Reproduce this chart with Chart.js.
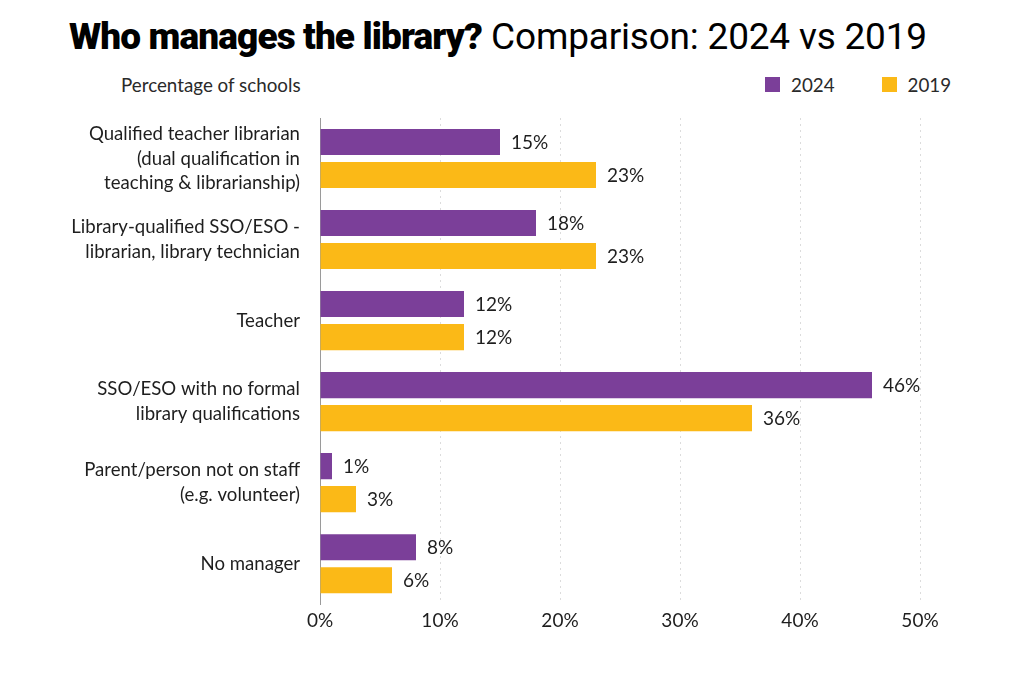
<!DOCTYPE html>
<html>
<head>
<meta charset="utf-8">
<script src="https://cdn.jsdelivr.net/npm/chart.js@4"></script>
<style>
  html,body{margin:0;padding:0;background:#fff;}
  #wrap{position:relative;width:1024px;height:683px;overflow:hidden;}
  #title{position:absolute;left:0;width:996px;top:15px;text-align:center;font-family:Roboto,sans-serif;font-size:37px;line-height:44px;color:#000;white-space:nowrap;}
  #title b{font-weight:900;letter-spacing:-0.9px;}
  #title span{font-weight:400;letter-spacing:-0.2px;}
  #sub{position:absolute;left:121px;top:73px;font-family:Lato,sans-serif;font-size:18.8px;color:#2a2a2a;}
  #legend{position:absolute;left:765px;top:73px;font-family:Lato,sans-serif;font-size:18.8px;color:#2a2a2a;display:flex;align-items:center;}
  #legend .sw{display:inline-block;width:15px;height:15px;margin-right:11px;}
  #legend .it{display:flex;align-items:center;margin-right:47px;}
  canvas{position:absolute;left:0;top:0;}
</style>
</head>
<body>
<div id="wrap">
  <div id="title"><b>Who manages the library?</b> <span>Comparison: 2024 vs 2019</span></div>
  <div id="sub">Percentage of schools</div>
  <div id="legend"></div>
  <canvas id="c" width="1024" height="683"></canvas>
</div>
<script>
const categories = [
  ["Qualified teacher librarian", "(dual qualification in", "teaching & librarianship)"],
  ["Library-qualified SSO/ESO -", "librarian, library technician"],
  ["Teacher"],
  ["SSO/ESO with no formal", "library qualifications"],
  ["Parent/person not on staff", "(e.g. volunteer)"],
  ["No manager"]
];
const seriesNames = ["2024", "2019"];
const values2024 = [15, 18, 12, 46, 1, 8];
const values2019 = [23, 23, 12, 36, 3, 6];
const xTicks = [0, 10, 20, 30, 40, 50];
const colors = ["#7B3F99", "#FBB917"];

// HTML legend built from series names
const leg = document.getElementById('legend');
seriesNames.forEach((n, i) => {
  const it = document.createElement('div');
  it.className = 'it';
  it.innerHTML = '<span class="sw" style="background:' + colors[i] + '"></span>' + n;
  leg.appendChild(it);
});

const valueLabels = {
  id: 'valueLabels',
  afterDatasetsDraw(chart) {
    const ctx = chart.ctx;
    ctx.save();
    ctx.font = '19px Lato, sans-serif';
    ctx.fillStyle = '#1e1e1e';
    ctx.textAlign = 'left';
    ctx.textBaseline = 'middle';
    chart.data.datasets.forEach((ds, di) => {
      const meta = chart.getDatasetMeta(di);
      meta.data.forEach((bar, i) => {
        ctx.fillText(ds.data[i] + '%', bar.x + 11, bar.y + 1);
      });
    });
    ctx.restore();
  }
};

new Chart(document.getElementById('c'), {
  type: 'bar',
  data: {
    labels: categories,
    datasets: [
      { label: seriesNames[0], data: values2024, backgroundColor: colors[0] },
      { label: seriesNames[1], data: values2019, backgroundColor: colors[1] }
    ]
  },
  options: {
    indexAxis: 'y',
    responsive: false,
    animation: false,
    devicePixelRatio: 1,
    categoryPercentage: 0.815,
    barPercentage: 0.79,
    layout: { padding: { left: 0, right: 104, top: 118, bottom: 46 } },
    plugins: { legend: { display: false }, tooltip: { enabled: false } },
    scales: {
      x: {
        min: 0, max: 50,
        afterBuildTicks(scale) { scale.ticks = xTicks.map(v => ({ value: v })); },
        ticks: {
          callback: v => v + '%',
          font: { family: 'Lato', size: 19 },
          color: '#1e1e1e',
          padding: 5
        },
        grid: {
          color: ctx => ctx.tick && ctx.tick.value === 0 ? 'rgba(0,0,0,0)' : '#dcdcdc',
          lineWidth: 1,
          drawTicks: false
        },
        border: { display: false, dash: [2, 4] }
      },
      y: {
        afterFit(scale) { scale.width = 320; },
        ticks: {
          font: { family: 'Lato', size: 18.6, lineHeight: 1.32 },
          color: '#1e1e1e',
          padding: 20
        },
        grid: { display: false, drawTicks: false },
        border: { display: true, color: '#9a9a9a', width: 1 }
      }
    }
  },
  plugins: [valueLabels]
});
</script>
</body>
</html>
